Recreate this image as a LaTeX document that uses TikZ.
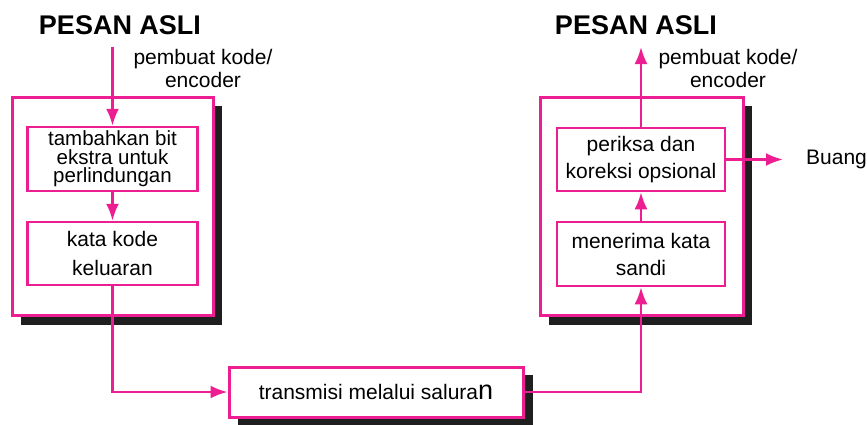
\documentclass[tikz,border=0pt]{standalone}
\usepackage{fontspec}
\setmainfont{Liberation Sans}
\usetikzlibrary{arrows.meta,positioning}
\definecolor{pk}{RGB}{236,30,146}
\tikzset{
  outerbox/.style={draw=pk,line width=3pt,fill=white,inner sep=0pt},
  innerbox/.style={draw=pk,line width=2.5pt,fill=white,inner sep=0pt,align=center,
    font=\fontsize{21}{27}\selectfont},
  conn/.style={draw=pk,line width=2.5pt,-{Latex[length=17pt,width=13pt]}},
  lbl/.style={inner sep=0pt,align=center,font=\fontsize{21}{23}\selectfont},
  title/.style={inner sep=0pt,font=\fontsize{27}{27}\selectfont\bfseries},
}
\begin{document}
\begin{tikzpicture}[x=1pt,y=-1pt]
\useasboundingbox (0,0) rectangle (867,424);
% shadows
\fill[black!88] (21,106) rectangle (222,325);
\fill[black!88] (549,106) rectangle (752,325);
\fill[black!88] (238,375) rectangle (533,426);
% outer boxes
\node[outerbox,minimum width=201pt,minimum height=218pt] (enc) at (112.5,206) {};
\node[outerbox,minimum width=203pt,minimum height=218pt] (dec) at (641.5,206) {};
% inner boxes
\node[innerbox,minimum width=170pt,minimum height=64pt,font=\fontsize{20.5}{18.5}\selectfont] (box1) at (112.5,159)
  {tambahkan bit\\ekstra untuk\\perlindungan};
\node[innerbox,minimum width=170pt,minimum height=63pt,font=\fontsize{21}{29}\selectfont] (box2) at (112.5,253.5)
  {kata kode\\keluaran};
\node[innerbox,minimum width=168pt,minimum height=63pt] (box3) at (641,159.5)
  {periksa dan\\koreksi opsional};
\node[innerbox,minimum width=168pt,minimum height=64pt] (box4) at (641,254)
  {menerima kata\\sandi};
% transmission
\node[innerbox,line width=3pt,minimum width=294pt,minimum height=50pt] (trans) at (376,392)
  {transmisi melalui salura{\fontsize{27}{27}\selectfont n}};
% titles and labels
\node[title] (t1) at (120,25) {PESAN ASLI};
\node[title] (t2) at (636,25) {PESAN ASLI};
\node[lbl] (l1) at (203,68) {pembuat kode/\\encoder};
\node[lbl] (l2) at (728,68) {pembuat kode/\\encoder};
\node[lbl,anchor=west] (buang) at (806,159) {Buang};
% connectors
\coordinate (top1) at (112.5,47);
\coordinate (top2) at (641,47);
\coordinate (btip) at (783,159.5);
\draw[conn] (top1) -- (box1.north);
\draw[conn] (box1.south) -- (box2.north);
\draw[conn] (box2.south) |- (trans.west);
\draw[conn] (trans.east) -| (box4.south);
\draw[conn] (box4.north) -- (box3.south);
\draw[conn] (box3.north) -- (top2);
\draw[conn] (box3.east) -- (btip);
\end{tikzpicture}
\end{document}
